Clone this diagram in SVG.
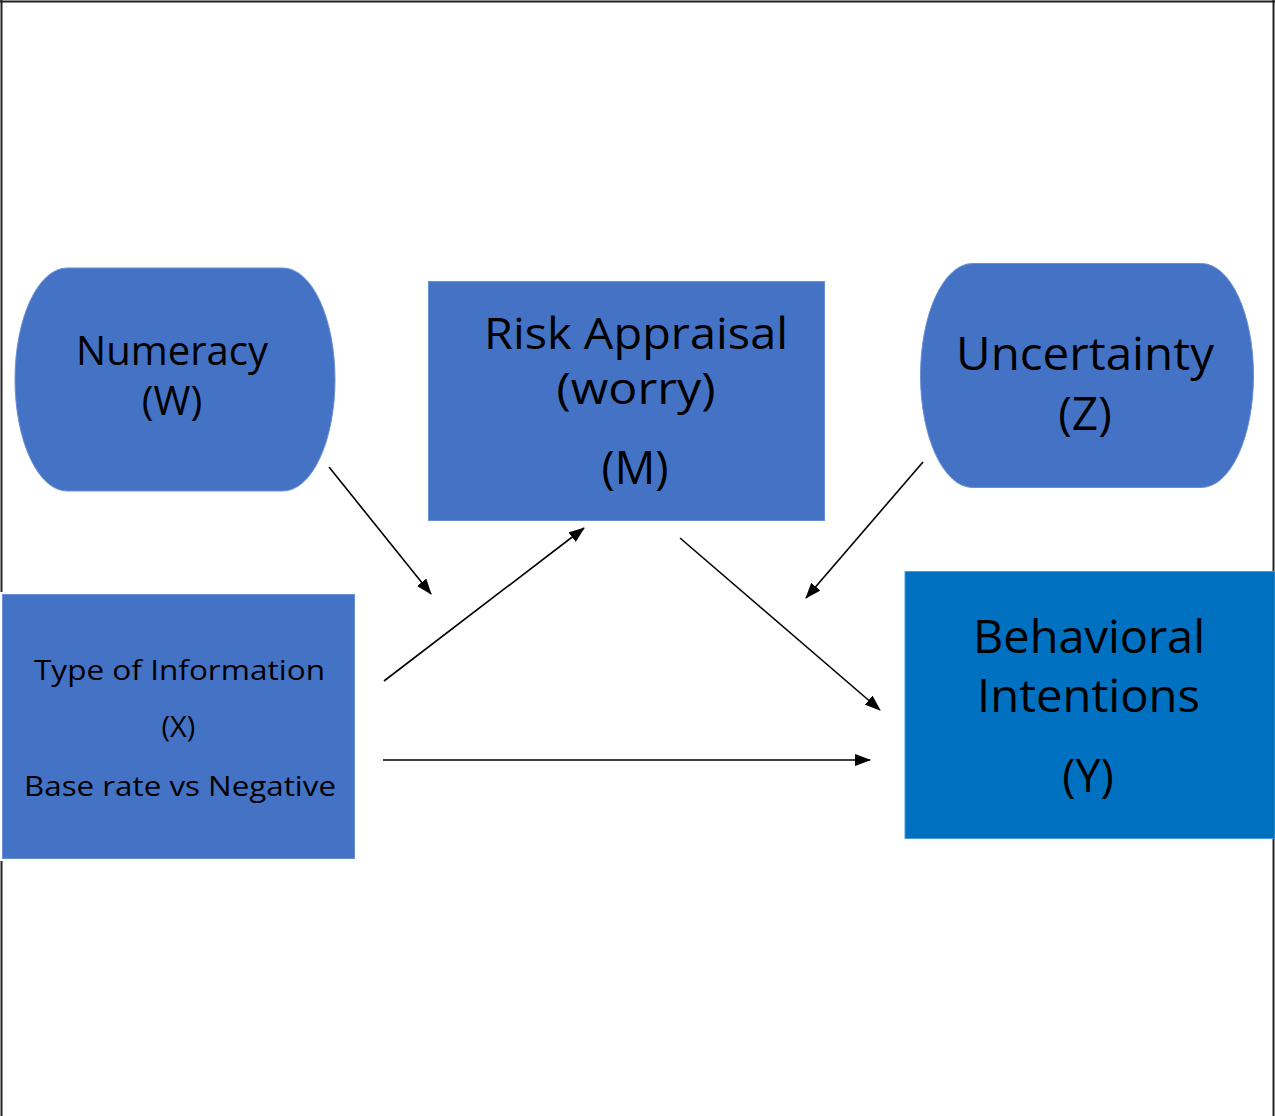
<svg xmlns="http://www.w3.org/2000/svg" width="1275" height="1116" viewBox="0 0 1275 1116">
  <defs>
    <marker id="arrow" viewBox="0 0 16 12" refX="15" refY="6" markerWidth="16" markerHeight="12" markerUnits="userSpaceOnUse" orient="auto">
      <path d="M0,0 L16,6 L0,12 Z" fill="#000"/>
    </marker>
    <style>
      .frame { stroke: #222; stroke-width: 2; fill: none; }
      .box { fill: #4472C4; stroke: #6b8fd6; stroke-width: 1; }
      .box-y { fill: #0070C0; stroke: #4a9ad8; stroke-width: 1; }
      .label { font-family: "Open Sans", "Liberation Sans", sans-serif; fill: #000; text-anchor: middle; }
      .edge { stroke: #000; stroke-width: 1.6; fill: none; marker-end: url(#arrow); }
    </style>
  </defs>

  <rect width="1275" height="1116" fill="#fff"/>

  <!-- page frame (no bottom edge) -->
  <g id="frame">
    <line class="frame" x1="0" y1="1.5" x2="1275" y2="1.5"/>
    <line class="frame" x1="1.5" y1="0" x2="1.5" y2="592"/>
    <line class="frame" x1="1.5" y1="861" x2="1.5" y2="1116"/>
    <line class="frame" x1="1273.5" y1="0" x2="1273.5" y2="1116"/>
  </g>

  <!-- connectors -->
  <g id="connectors">
    <line class="edge" x1="329" y1="467" x2="431" y2="594"/>
    <line class="edge" x1="384" y1="681" x2="584" y2="528"/>
    <line class="edge" x1="680" y1="538" x2="880" y2="710"/>
    <line class="edge" x1="923" y1="462" x2="806" y2="598"/>
    <line class="edge" x1="383" y1="760" x2="870" y2="760"/>
  </g>

  <g id="node-numeracy">
    <rect class="box" x="15" y="268" width="320" height="223" rx="52" ry="111.5"/>
    <text class="label" x="172" y="365" font-size="40" textLength="192" lengthAdjust="spacingAndGlyphs">Numeracy</text>
    <text class="label" x="172" y="415" font-size="40">(W)</text>
  </g>

  <g id="node-risk">
    <rect class="box" x="428.5" y="281.5" width="396" height="239"/>
    <text class="label" x="636" y="349" font-size="44" textLength="304" lengthAdjust="spacingAndGlyphs">Risk Appraisal</text>
    <text class="label" x="636" y="404" font-size="43" textLength="159" lengthAdjust="spacingAndGlyphs">(worry)</text>
    <text class="label" x="635" y="484" font-size="45">(M)</text>
  </g>

  <g id="node-uncertainty">
    <rect class="box" x="920.5" y="263.5" width="333" height="224" rx="52" ry="112"/>
    <text class="label" x="1085" y="370" font-size="46" textLength="258" lengthAdjust="spacingAndGlyphs">Uncertainty</text>
    <text class="label" x="1085" y="430" font-size="46">(Z)</text>
  </g>

  <g id="node-type">
    <rect class="box" x="2.5" y="594.5" width="352" height="264"/>
    <text class="label" x="179.5" y="680" font-size="28" textLength="291" lengthAdjust="spacingAndGlyphs">Type of Information</text>
    <text class="label" x="178.5" y="737" font-size="29">(X)</text>
    <text class="label" x="180" y="796" font-size="28" textLength="312" lengthAdjust="spacingAndGlyphs">Base rate vs Negative</text>
  </g>

  <g id="node-behavioral">
    <rect class="box-y" x="905" y="571.5" width="370" height="267"/>
    <text class="label" x="1089" y="653" font-size="45" textLength="232" lengthAdjust="spacingAndGlyphs">Behavioral</text>
    <text class="label" x="1088.5" y="712" font-size="45" textLength="223" lengthAdjust="spacingAndGlyphs">Intentions</text>
    <text class="label" x="1088" y="792" font-size="45">(Y)</text>
  </g>
</svg>
